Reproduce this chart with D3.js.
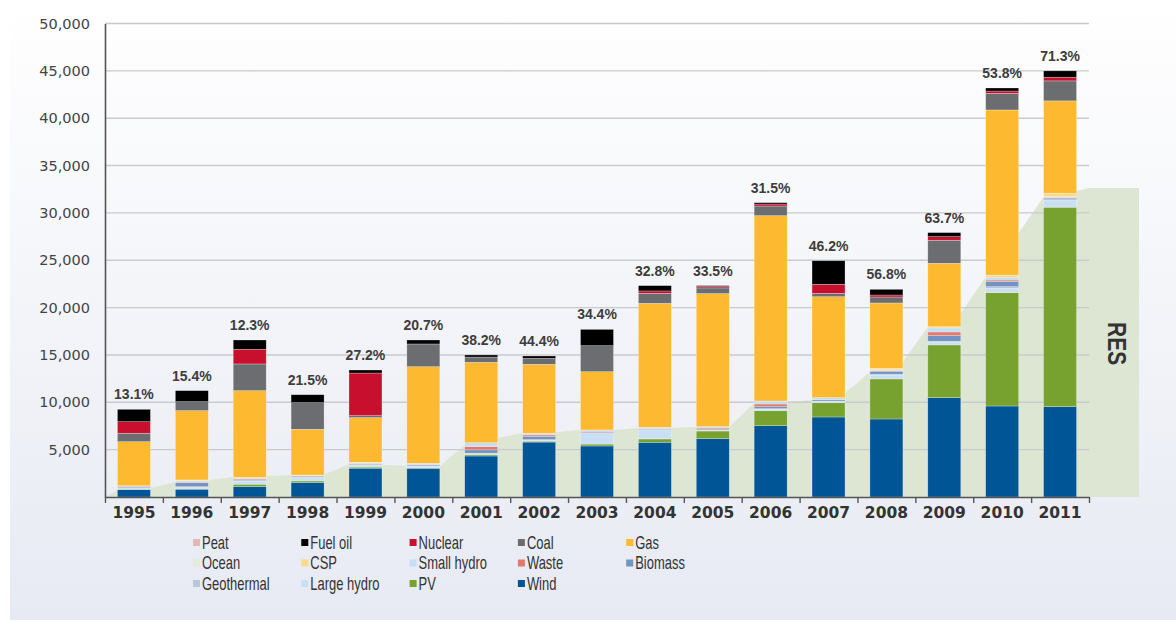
<!DOCTYPE html>
<html>
<head>
<meta charset="utf-8">
<script src="https://cdn.jsdelivr.net/npm/d3@7"></script>
<style>
  body { margin: 0; background: #fff; }
  svg { display: block; }
</style>
</head>
<body>
<svg id="chart" width="1176" height="620"></svg>
<script>
// installed capacity per source, MW
var years = [1995, 1996, 1997, 1998, 1999, 2000, 2001, 2002, 2003, 2004, 2005, 2006, 2007, 2008, 2009, 2010, 2011];
var shares = ["13.1%", "15.4%", "12.3%", "21.5%", "27.2%", "20.7%", "38.2%", "44.4%", "34.4%", "32.8%", "33.5%", "31.5%", "46.2%", "56.8%", "63.7%", "53.8%", "71.3%"];

var wind       = [800, 820, 1100, 1530, 3040, 3030, 4330, 5800, 5390, 5780, 6160, 7530, 8450, 8240, 10490, 9610, 9540];
var pv         = [20, 40, 250, 170, 120, 50, 130, 100, 200, 350, 810, 1580, 1510, 4230, 5570, 11970, 21060];
var largeHydro = [150, 150, 330, 320, 170, 150, 120, 110, 1100, 950, 70, 160, 100, 400, 290, 450, 710];
var geothermal = [20, 80, 60, 80, 60, 50, 50, 50, 50, 50, 50, 60, 80, 100, 100, 180, 100];
var biomass    = [120, 420, 100, 100, 80, 100, 350, 350, 100, 70, 100, 210, 150, 300, 590, 560, 150];
var waste      = [40, 60, 100, 40, 40, 60, 350, 140, 100, 40, 100, 280, 0, 70, 390, 140, 60];
var smallHydro = [40, 170, 100, 40, 110, 120, 400, 180, 140, 120, 140, 320, 200, 100, 430, 300, 100];
var csp        = [0, 60, 40, 40, 40, 0, 0, 0, 0, 0, 0, 0, 0, 150, 130, 230, 360];
var ocean      = [0, 0, 0, 0, 0, 0, 0, 0, 0, 0, 0, 0, 0, 0, 0, 0, 0];
var gas        = [4650, 7320, 9150, 4830, 4720, 10200, 8490, 7280, 6150, 13090, 14050, 19570, 10660, 6900, 6690, 17430, 9750];
var coal       = [890, 950, 2820, 2810, 210, 2400, 560, 630, 2750, 1060, 600, 1020, 360, 630, 2430, 1760, 2110];
var nuclear    = [1220, 0, 1550, 0, 4500, 0, 0, 0, 0, 250, 140, 210, 950, 210, 380, 240, 390];
var fuelOil    = [1310, 1160, 980, 840, 320, 420, 220, 250, 1720, 560, 100, 140, 2490, 600, 430, 320, 670];
var peat       = [0, 0, 0, 0, 0, 0, 0, 0, 0, 0, 0, 0, 0, 0, 0, 0, 0];

// RES backdrop: level at left and right edge of each bar, MW
var shadeLeft  = [700, 1580, 2110, 2320, 3450, 3280, 5500, 6760, 7080, 7290, 7390, 9930, 10250, 13200, 17960, 23230, 31680];
var shadeRight = [950, 1800, 2220, 2380, 3400, 3280, 6230, 6860, 7080, 7290, 7390, 10030, 10980, 14260, 19440, 27880, 32300];
var shadeEnd = 32630;

var yTicks = [5000, 10000, 15000, 20000, 25000, 30000, 35000, 40000, 45000, 50000];

// bottom to top
var sources = [
  { key: "Wind",        values: wind,       color: "#005596" },
  { key: "PV",          values: pv,         color: "#77a22f" },
  { key: "Large hydro", values: largeHydro, color: "#c9e0f4" },
  { key: "Geothermal",  values: geothermal, color: "#b9c5df" },
  { key: "Biomass",     values: biomass,    color: "#7393c3" },
  { key: "Waste",       values: waste,      color: "#e07a6c" },
  { key: "Small hydro", values: smallHydro, color: "#c5def2" },
  { key: "CSP",         values: csp,        color: "#fdd98c" },
  { key: "Ocean",       values: ocean,      color: "#e3ecd6" },
  { key: "Gas",         values: gas,        color: "#fdb92f" },
  { key: "Coal",        values: coal,       color: "#6c6d70" },
  { key: "Nuclear",     values: nuclear,    color: "#c8102e" },
  { key: "Fuel oil",    values: fuelOil,    color: "#000000" },
  { key: "Peat",        values: peat,       color: "#e3b7b5" }
];

var table = years.map(function (yr, i) {
  var row = { year: yr };
  sources.forEach(function (s) { row[s.key] = s.values[i]; });
  return row;
});

var svg = d3.select("#chart");

// panel background
var grad = svg.append("defs").append("linearGradient")
  .attr("id", "panel").attr("x1", 0).attr("y1", 0).attr("x2", 0).attr("y2", 1);
grad.append("stop").attr("offset", "0%").attr("stop-color", "#ffffff");
grad.append("stop").attr("offset", "100%").attr("stop-color", "#e7eaf3");
svg.append("rect")
  .attr("x", 10).attr("y", 0).attr("width", 1166).attr("height", 620)
  .attr("fill", "url(#panel)");

var x = d3.scaleBand()
  .domain(years)
  .range([105, 1089])
  .paddingInner(0.43)
  .paddingOuter(0.215);

var y = d3.scaleLinear()
  .domain([0, 50000])
  .range([497, 23.5]);

var bw = x.bandwidth();
var xEnd = x.range()[1];

//
// RES backdrop
//
var shadePts = [[x.range()[0], 0]];
years.forEach(function (yr, i) {
  shadePts.push([x(yr), shadeLeft[i]]);
  shadePts.push([x(yr) + bw, shadeRight[i]]);
});
shadePts.push([xEnd, shadeEnd]);
shadePts.push([xEnd + 50, shadeEnd]);

svg.append("path")
  .datum(shadePts)
  .attr("fill", "#dde6d3")
  .attr("d", d3.area()
    .x(function (d) { return d[0]; })
    .y0(y(0))
    .y1(function (d) { return y(d[1]); }));

// condensed look: squeeze along the reading direction
svg.append("text")
  .attr("transform", "translate(" + (xEnd + 19) + "," + y(16200) + ") rotate(90) scale(0.79,1)")
  .attr("text-anchor", "middle")
  .style("font-family", "'Liberation Sans', Arial, sans-serif")
  .style("font-weight", "bold")
  .style("font-size", "26.5px")
  .style("fill", "#333")
  .text("RES");

// gridlines
svg.append("g")
  .selectAll("line")
  .data(yTicks)
  .enter().append("line")
  .attr("x1", x.range()[0]).attr("x2", xEnd)
  .attr("y1", function (d) { return y(d); })
  .attr("y2", function (d) { return y(d); })
  .attr("stroke", "#cacacd")
  .attr("stroke-width", 1.4);

//
// stacked bars
//
var series = d3.stack().keys(sources.map(function (s) { return s.key; }))(table);

var layer = svg.append("g").selectAll("g")
  .data(series)
  .enter().append("g")
  .attr("fill", function (d, i) { return sources[i].color; });

layer.selectAll("rect")
  .data(function (d) { return d; })
  .enter().append("rect")
  .attr("x", function (d) { return x(d.data.year); })
  .attr("width", bw)
  .attr("y", function (d) { return y(d[1]); })
  .attr("height", function (d) { return y(d[0]) - y(d[1]); })
  .attr("stroke", "rgba(255,255,255,0.45)")
  .attr("stroke-width", function (d) { return d[1] > d[0] ? 0.6 : 0; });

// share labels over bars
var totals = table.map(function (row) {
  return d3.sum(sources, function (s) { return row[s.key]; });
});
svg.append("g").selectAll("text")
  .data(years)
  .enter().append("text")
  .attr("x", function (d) { return x(d) + bw / 2; })
  .attr("y", function (d, i) { return y(totals[i]) - 10; })
  .attr("text-anchor", "middle")
  .style("font-family", "'Liberation Sans', Arial, sans-serif")
  .style("font-weight", "bold")
  .style("font-size", "14px")
  .style("fill", "#3d3d3d")
  .text(function (d, i) { return shares[i]; });

//
// axes
//
var yAxis = svg.append("g")
  .attr("transform", "translate(" + x.range()[0] + ",0)")
  .call(d3.axisLeft(y).tickValues(yTicks).tickSize(0).tickPadding(15)
    .tickFormat(d3.format(",")));
yAxis.select(".domain").attr("stroke", "#555").attr("stroke-width", 1.6);
yAxis.selectAll("text")
  .style("font-family", "'DejaVu Sans', sans-serif")
  .style("font-size", "14.5px")
  .style("fill", "#444");

// ticks sit on the band boundaries
var edges = d3.scaleLinear().domain([0, years.length]).range(x.range());
var xTicks = svg.append("g")
  .attr("transform", "translate(0," + y(0) + ")")
  .call(d3.axisBottom(edges).ticks(years.length).tickSize(6).tickSizeOuter(0)
    .tickFormat(""));
xTicks.select(".domain").attr("stroke", "#555").attr("stroke-width", 1.6);
xTicks.selectAll(".tick line").attr("stroke", "#555").attr("stroke-width", 1.4);

var xLabels = svg.append("g")
  .attr("transform", "translate(0," + y(0) + ")")
  .call(d3.axisBottom(x).tickSize(0).tickPadding(10));
xLabels.select(".domain").remove();
xLabels.selectAll("text")
  .style("font-family", "'DejaVu Sans', sans-serif")
  .style("font-weight", "bold")
  .style("font-size", "15.5px")
  .style("fill", "#333");

//
// legend, 5 columns, top source first
//
var legendItems = sources.slice().reverse();
var legend = svg.append("g").attr("transform", "translate(193,539)");
var item = legend.selectAll("g")
  .data(legendItems)
  .enter().append("g")
  .attr("transform", function (d, i) {
    return "translate(" + (i % 5) * 108.3 + "," + Math.floor(i / 5) * 20.5 + ")";
  });
item.append("rect")
  .attr("width", 7).attr("height", 7)
  .attr("fill", function (d) { return d.color; });
item.append("text")
  .attr("transform", "translate(9,9.5) scale(0.72,1)")
  .style("font-family", "'Liberation Sans', Arial, sans-serif")
  .style("font-size", "18px")
  .style("fill", "#333")
  .text(function (d) { return d.key; });
</script>
</body>
</html>
